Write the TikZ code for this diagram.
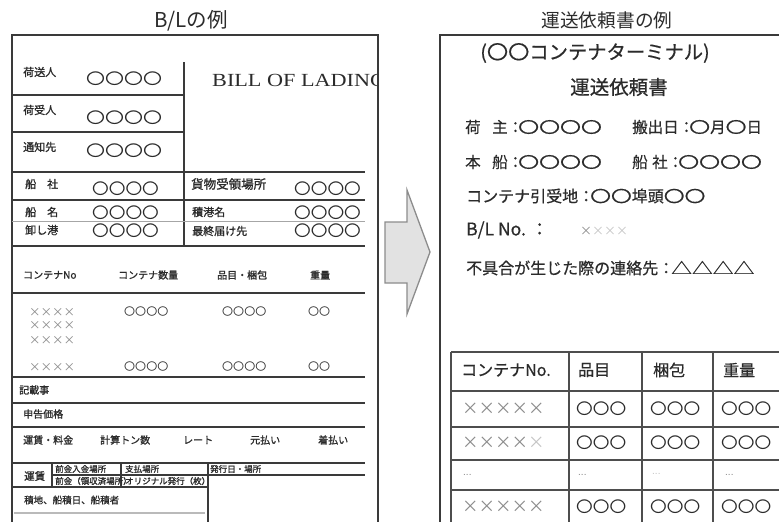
\documentclass[tikz,border=0pt]{standalone}
\usepackage{fontspec}
\setmainfont{Liberation Sans}
\newfontfamily\jp{Noto Sans CJK JP}
\newfontfamily\jpb[FakeBold=1.2]{Noto Sans CJK JP}
\newfontfamily\jpm[FakeBold=0.5]{Noto Sans CJK JP}
\newfontfamily\serf{Liberation Serif}
\newcommand\ovl[2][1.35]{\scalebox{#1}[1]{#2}}
\definecolor{ink}{HTML}{2B2B2B}
\definecolor{rulec}{HTML}{3A3A3A}
\definecolor{xgray}{HTML}{8A8A8A}
\definecolor{xlight}{HTML}{C4C4C4}
\definecolor{arrowf}{HTML}{E2E2E2}
\definecolor{arrowd}{HTML}{8C8C8C}
\tikzset{
  base/.style={inner sep=0pt, text=ink, anchor=west},
  ttl/.style={inner sep=0pt, text=ink, font=\jpm\fontsize{19.5}{21}\selectfont},
  lbl/.style={base, font=\jpb\fontsize{11}{12}\selectfont},
  lblm/.style={base, font=\jpb\fontsize{12.5}{14}\selectfont},
  hdr/.style={base, font=\jpb\fontsize{10}{11}\selectfont},
  tiny/.style={base, font=\jpb\fontsize{8.5}{9}\selectfont},
  ootop/.style={base, font=\jp\fontsize{15.3}{17}\selectfont},
  oomid/.style={base, font=\jp\fontsize{15.3}{17}\selectfont},
  oosm/.style={base, font=\jp\fontsize{10.5}{12}\selectfont},
  xsm/.style={base, text=xgray, font=\jp\fontsize{11.5}{13}\selectfont},
  rtx/.style={base, font=\jpm\fontsize{16}{18}\selectfont},
  rto/.style={base, font=\jpm\fontsize{15.5}{18}\selectfont},
  cell/.style={base, font=\jpm\fontsize{16}{18}\selectfont},
  cello/.style={base, font=\jp\fontsize{15.3}{17}\selectfont},
  cellx/.style={base, text=xgray, font=\jp\fontsize{16.5}{18}\selectfont},
  dots/.style={base, text=xgray, font=\fontsize{10}{12}\selectfont},
  border/.style={draw=rulec, line width=2.6pt, line cap=rect},
  rl/.style={draw=rulec, line width=1.4pt},
  rlthick/.style={draw=rulec, line width=2.4pt},
  rlfaint/.style={draw=rulec!45, line width=1pt},
  tbl/.style={draw=rulec!90, line width=2pt},
}
\begin{document}
\begin{tikzpicture}[x=1pt,y=-1pt]
\useasboundingbox (0,0) rectangle (779,522);
\fill[white] (0,0) rectangle (779,522);

% ---------------- titles
\node[ttl, font=\jp\fontsize{20.5}{22}\selectfont] (t1) at (191,21) {B/Lの例};
\node[ttl, font=\jp\fontsize{18.7}{21}\selectfont] (t2) at (607,20) {運送依頼書の例};

% ---------------- left document (B/L)
\draw[border] (12,522) -- (12,35) -- (378,35) -- (378,522);
\draw[rl] (184,62) -- (184,246);
\draw[rl] (12,95) -- (184,95);
\draw[rl] (12,132) -- (184,132);
\draw[rl] (12,172) -- (365,172);
\draw[rl] (12,200) -- (365,200);
\draw[rlfaint] (12,221) -- (365,221);
\draw[rl] (12,246) -- (365,246);

\begin{scope}
\clip (186,60) rectangle (376.5,100);
\node[base, font=\serf\fontsize{18.5}{20}\selectfont] (bol) at (212,80) {\scalebox{1.2}[1]{BILL OF LADING}};
\end{scope}

\node[lbl] (shp) at (23,72) {荷送人};
\node[ootop] (o1) at (86,79) {\ovl[1.24]{〇〇〇〇}};
\node[lbl] (cns) at (23,110) {荷受人};
\node[ootop] (o2) at (86,118) {\ovl[1.24]{〇〇〇〇}};
\node[lbl] (ntf) at (23,147) {通知先};
\node[ootop] (o3) at (86,151) {\ovl[1.24]{〇〇〇〇}};

\node[lbl] (car) at (25,184) {船　社};
\node[oomid] (o4) at (92,189) {\ovl[1.09]{〇〇〇〇}};
\node[lblm] (rcp) at (191,184) {貨物受領場所};
\node[oomid] (o5) at (294,189) {\ovl[1.09]{〇〇〇〇}};
\node[lbl] (ves) at (25,212) {船　名};
\node[oomid] (o6) at (92,213) {\ovl[1.09]{〇〇〇〇}};
\node[lbl] (pol) at (192,212) {積港名};
\node[oomid] (o7) at (294,213) {\ovl[1.09]{〇〇〇〇}};
\node[lbl] (pod) at (25,230) {卸し港};
\node[oomid] (o8) at (92,231) {\ovl[1.09]{〇〇〇〇}};
\node[lbl] (dst) at (192,231) {最終届け先};
\node[oomid] (o9) at (294,231) {\ovl[1.09]{〇〇〇〇}};

\node[hdr] (h1) at (23,275) {コンテナNo};
\node[hdr] (h2) at (118,275) {コンテナ数量};
\node[hdr] (h3) at (217,275) {品目・梱包};
\node[hdr] (h4) at (310,275) {重量};
\draw[rl] (12,293) -- (365,293);

\node[xsm] (x1) at (29,312) {××××};
\node[xsm] (x2) at (29,325) {××××};
\node[xsm] (x3) at (29,340) {××××};
\node[oosm] (d1) at (124,312) {\ovl[1.05]{〇〇〇〇}};
\node[oosm] (d2) at (222,312) {\ovl[1.05]{〇〇〇〇}};
\node[oosm] (d3) at (308,312) {\ovl[1.05]{〇〇}};
\node[xsm] (x4) at (29,367) {××××};
\node[oosm] (d4) at (124,367) {\ovl[1.05]{〇〇〇〇}};
\node[oosm] (d5) at (222,367) {\ovl[1.05]{〇〇〇〇}};
\node[oosm] (d6) at (308,367) {\ovl[1.05]{〇〇}};
\draw[rlthick] (12,377) -- (365,377);

\node[hdr] (rg) at (19,390) {記載事};
\draw[rl] (12,403) -- (365,403);
\node[hdr] (dv) at (23,414) {申告価格};
\draw[rl] (12,427) -- (365,427);
\node[hdr] (f1) at (23,440) {運賃・料金};
\node[hdr] (f2) at (100,440) {計算トン数};
\node[hdr] (f3) at (183,440) {レート};
\node[hdr] (f4) at (250,440) {元払い};
\node[hdr] (f5) at (318,440) {着払い};
\draw[rl] (12,463) -- (365,463);

\draw[rl] (52,475) -- (365,475);
\draw[rl] (12,487) -- (208,487);
\draw[rl] (52,463) -- (52,487);
\draw[rl] (121,463) -- (121,487);
\draw[rl] (208,463) -- (208,522);
\node[tiny, font=\jpb\fontsize{10.5}{12}\selectfont] (fr) at (24,476) {運賃};
\node[tiny] (c1) at (55,469) {前金入金場所};
\node[tiny] (c2) at (125,469) {支払場所};
\node[tiny] (c3) at (210,469) {発行日・場所};
\node[tiny] (c4) at (55,481) {前金（領収済場所）};
\node[tiny] (c5) at (125,481) {オリジナル発行（枚）};
\node[tiny, font=\jpb\fontsize{9.5}{11}\selectfont] (ld) at (24,500) {積地、船積日、船積者};
\draw[draw=rulec!35, line width=2pt] (14,513) -- (205,513);

% ---------------- arrow
\draw[draw=arrowd, line width=1.3pt, fill=arrowf, line join=miter]
  (385,222) -- (407,222) -- (407,190) -- (430,252) -- (407,314) -- (407,283) -- (385,283) -- cycle;

% ---------------- right document
\draw[border] (440,522) -- (440,35) -- (779,35);

\node[ttl, font=\jpm\fontsize{19.3}{22}\selectfont] (r1) at (595,53) {(\ovl[1.1]{〇〇}コンテナターミナル)};
\node[ttl] (r2) at (619,87) {運送依頼書};

\node[rto] (a1) at (465,127) {荷\hspace{11.5pt}主：\hspace{-5pt}\ovl{〇〇〇〇}};
\node[rto] (a3) at (632,127) {搬出日：\hspace{-5pt}\ovl{〇}月\ovl{〇}日};
\node[rto] (b1) at (465,162) {本\hspace{11.5pt}船：\hspace{-5pt}\ovl{〇〇〇〇}};
\node[rto] (b3) at (632,162) {船\hspace{4.5pt}社：\hspace{-5pt}\ovl{〇〇〇〇}};
\node[rtx] (c0) at (466,196) {コンテナ引受地：\hspace{-4pt}\ovl[1.3]{〇〇}埠頭\ovl[1.3]{〇〇}};
\node[rtx, font=\jpm\fontsize{17.5}{19}\selectfont] (bl) at (466,230) {B/L No.\hspace{5pt}：};
\node[base, text=xgray, font=\jp\fontsize{12}{14}\selectfont] (blx) at (580,231) {×\textcolor{xlight}{×××}};
\node[rtx] (ct) at (466,268) {不具合が生じた際の連絡先：\hspace{-3pt}\ovl[1.3]{△△△△}};

% table
\draw[tbl] (451,352) -- (779,352);
\draw[tbl] (451,391) -- (779,391);
\draw[tbl] (451,427) -- (779,427);
\draw[tbl] (451,460) -- (779,460);
\draw[tbl] (451,490) -- (779,490);
\draw[tbl] (451,352) -- (451,522);
\draw[tbl] (569,352) -- (569,522);
\draw[tbl] (642,352) -- (642,522);
\draw[tbl] (713,352) -- (713,522);

\node[cell] (th1) at (461,370) {コンテナNo.};
\node[cell] (th2) at (578,370) {品目};
\node[cell] (th3) at (653,370) {梱包};
\node[cell] (th4) at (723,370) {重量};

\node[cellx] (r1a) at (462,409) {×××××};
\node[cello] (r1b) at (576,409) {\ovl[1.09]{〇〇〇}};
\node[cello] (r1c) at (650,409) {\ovl[1.09]{〇〇〇}};
\node[cello] (r1d) at (721,409) {\ovl[1.09]{〇〇〇}};

\node[cellx] (r2a) at (462,443) {××××\textcolor{xlight}{×}};
\node[cello] (r2b) at (576,443) {\ovl[1.09]{〇〇〇}};
\node[cello] (r2c) at (650,443) {\ovl[1.09]{〇〇〇}};
\node[cello] (r2d) at (721,443) {\ovl[1.09]{〇〇〇}};

\node[dots] (r3a) at (463,475) {...};
\node[dots] (r3b) at (578,475) {...};
\node[dots, text=xlight] (r3c) at (652,474) {...};
\node[dots] (r3d) at (725,475) {...};

\node[cellx] (r4a) at (462,507) {×××××};
\node[cello] (r4b) at (576,507) {\ovl[1.09]{〇〇〇}};
\node[cello] (r4c) at (650,507) {\ovl[1.09]{〇〇〇}};
\node[cello] (r4d) at (721,507) {\ovl[1.09]{〇〇〇}};
\end{tikzpicture}
\end{document}
